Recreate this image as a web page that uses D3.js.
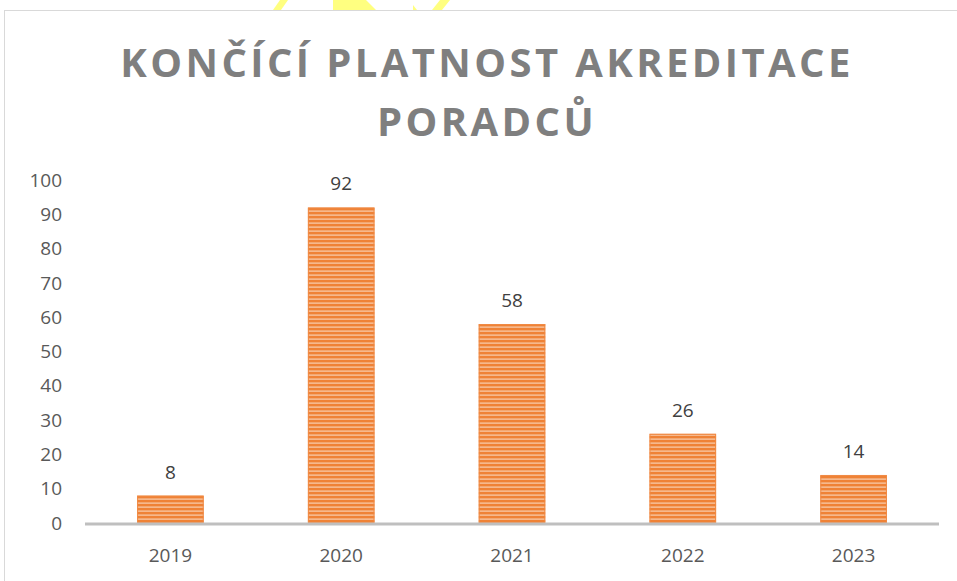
<!DOCTYPE html>
<html>
<head>
<meta charset="utf-8">
<script src="https://cdn.jsdelivr.net/npm/d3@7"></script>
<style>
  body { margin: 0; background: #fff; }
  svg { display: block; font-family: "Open Sans", Calibri, sans-serif; }
</style>
</head>
<body>
<div id="chart"></div>
<script>
var years = ["2019", "2020", "2021", "2022", "2023"];
var counts = [8, 92, 58, 26, 14];
var yTicks = [0, 10, 20, 30, 40, 50, 60, 70, 80, 90, 100];
var titleLines = ["KONČÍCÍ PLATNOST AKREDITACE", "PORADCŮ"];

var width = 957, height = 581;
var svg = d3.select("#chart").append("svg").attr("width", width).attr("height", height);

// bit of the yellow logo peeking above the frame
var logo = svg.append("g").attr("fill", "#ffff80");
logo.append("path").attr("d", "M273,10 L280,0 L288,0 L281,10 Z");
logo.append("path").attr("d", "M333,10 L333,0 L366,0 L376,10 Z");
logo.append("path").attr("d", "M413,10 L413,5 L417,10 Z M432,10 L440,0 L450,0 L442,10 Z");

// chart frame
svg.append("rect")
  .attr("x", 4.5).attr("y", 10.5).attr("width", 980).attr("height", 600)
  .attr("fill", "#fff").attr("stroke", "#d9d9d9");

// striped fill
var defs = svg.append("defs");
var pat = defs.append("pattern").attr("id", "stripes")
  .attr("patternUnits", "userSpaceOnUse").attr("width", 8).attr("height", 4);
pat.append("rect").attr("width", 8).attr("height", 4).attr("fill", "#f6b88c");
pat.append("rect").attr("width", 8).attr("height", 2.3).attr("fill", "#ef8236");

var x = d3.scaleBand().domain(years).range([85, 939]).paddingInner(0.61).paddingOuter(0.305);
var y = d3.scaleLinear().domain([0, 100]).range([523, 180]);

// title
svg.append("text")
  .attr("x", 487).attr("text-anchor", "middle")
  .attr("font-size", 40).attr("font-weight", "bold").attr("fill", "#7f7f7f")
  .attr("letter-spacing", 3.4)
  .selectAll("tspan").data(titleLines).enter().append("tspan")
  .attr("x", 487).attr("y", (d, i) => 77 + i * 59)
  .text(d => d);

// y labels
svg.append("g").selectAll("text").data(yTicks).enter().append("text")
  .attr("x", 62).attr("y", d => y(d)).attr("dy", "0.35em")
  .attr("text-anchor", "end").attr("font-size", 19).attr("fill", "#595959")
  .text(d => d);

// bars
var bars = svg.append("g").selectAll("g").data(counts).enter().append("g");
bars.append("rect")
  .attr("x", (d, i) => x(years[i])).attr("width", x.bandwidth())
  .attr("y", d => y(d)).attr("height", d => y(0) - y(d))
  .attr("fill", "url(#stripes)");
bars.append("rect")
  .attr("x", (d, i) => x(years[i]) + 0.5).attr("width", x.bandwidth() - 1)
  .attr("y", d => y(d) + 0.5).attr("height", d => y(0) - y(d) - 1)
  .attr("fill", "none").attr("stroke", "#f08a45").attr("stroke-width", 1);

bars.append("text")
  .attr("x", (d, i) => x(years[i]) + x.bandwidth() / 2)
  .attr("y", d => y(d) - 17)
  .attr("text-anchor", "middle").attr("font-size", 19).attr("fill", "#404040")
  .text(d => d);

// x axis line
svg.append("line")
  .attr("x1", 85).attr("x2", 939).attr("y1", y(0) + 1).attr("y2", y(0) + 1)
  .attr("stroke", "#bfbfbf").attr("stroke-width", 3);

// x labels
svg.append("g").selectAll("text").data(years).enter().append("text")
  .attr("x", d => x(d) + x.bandwidth() / 2).attr("y", 562)
  .attr("text-anchor", "middle").attr("font-size", 19).attr("fill", "#595959")
  .text(d => d);
</script>
</body>
</html>
